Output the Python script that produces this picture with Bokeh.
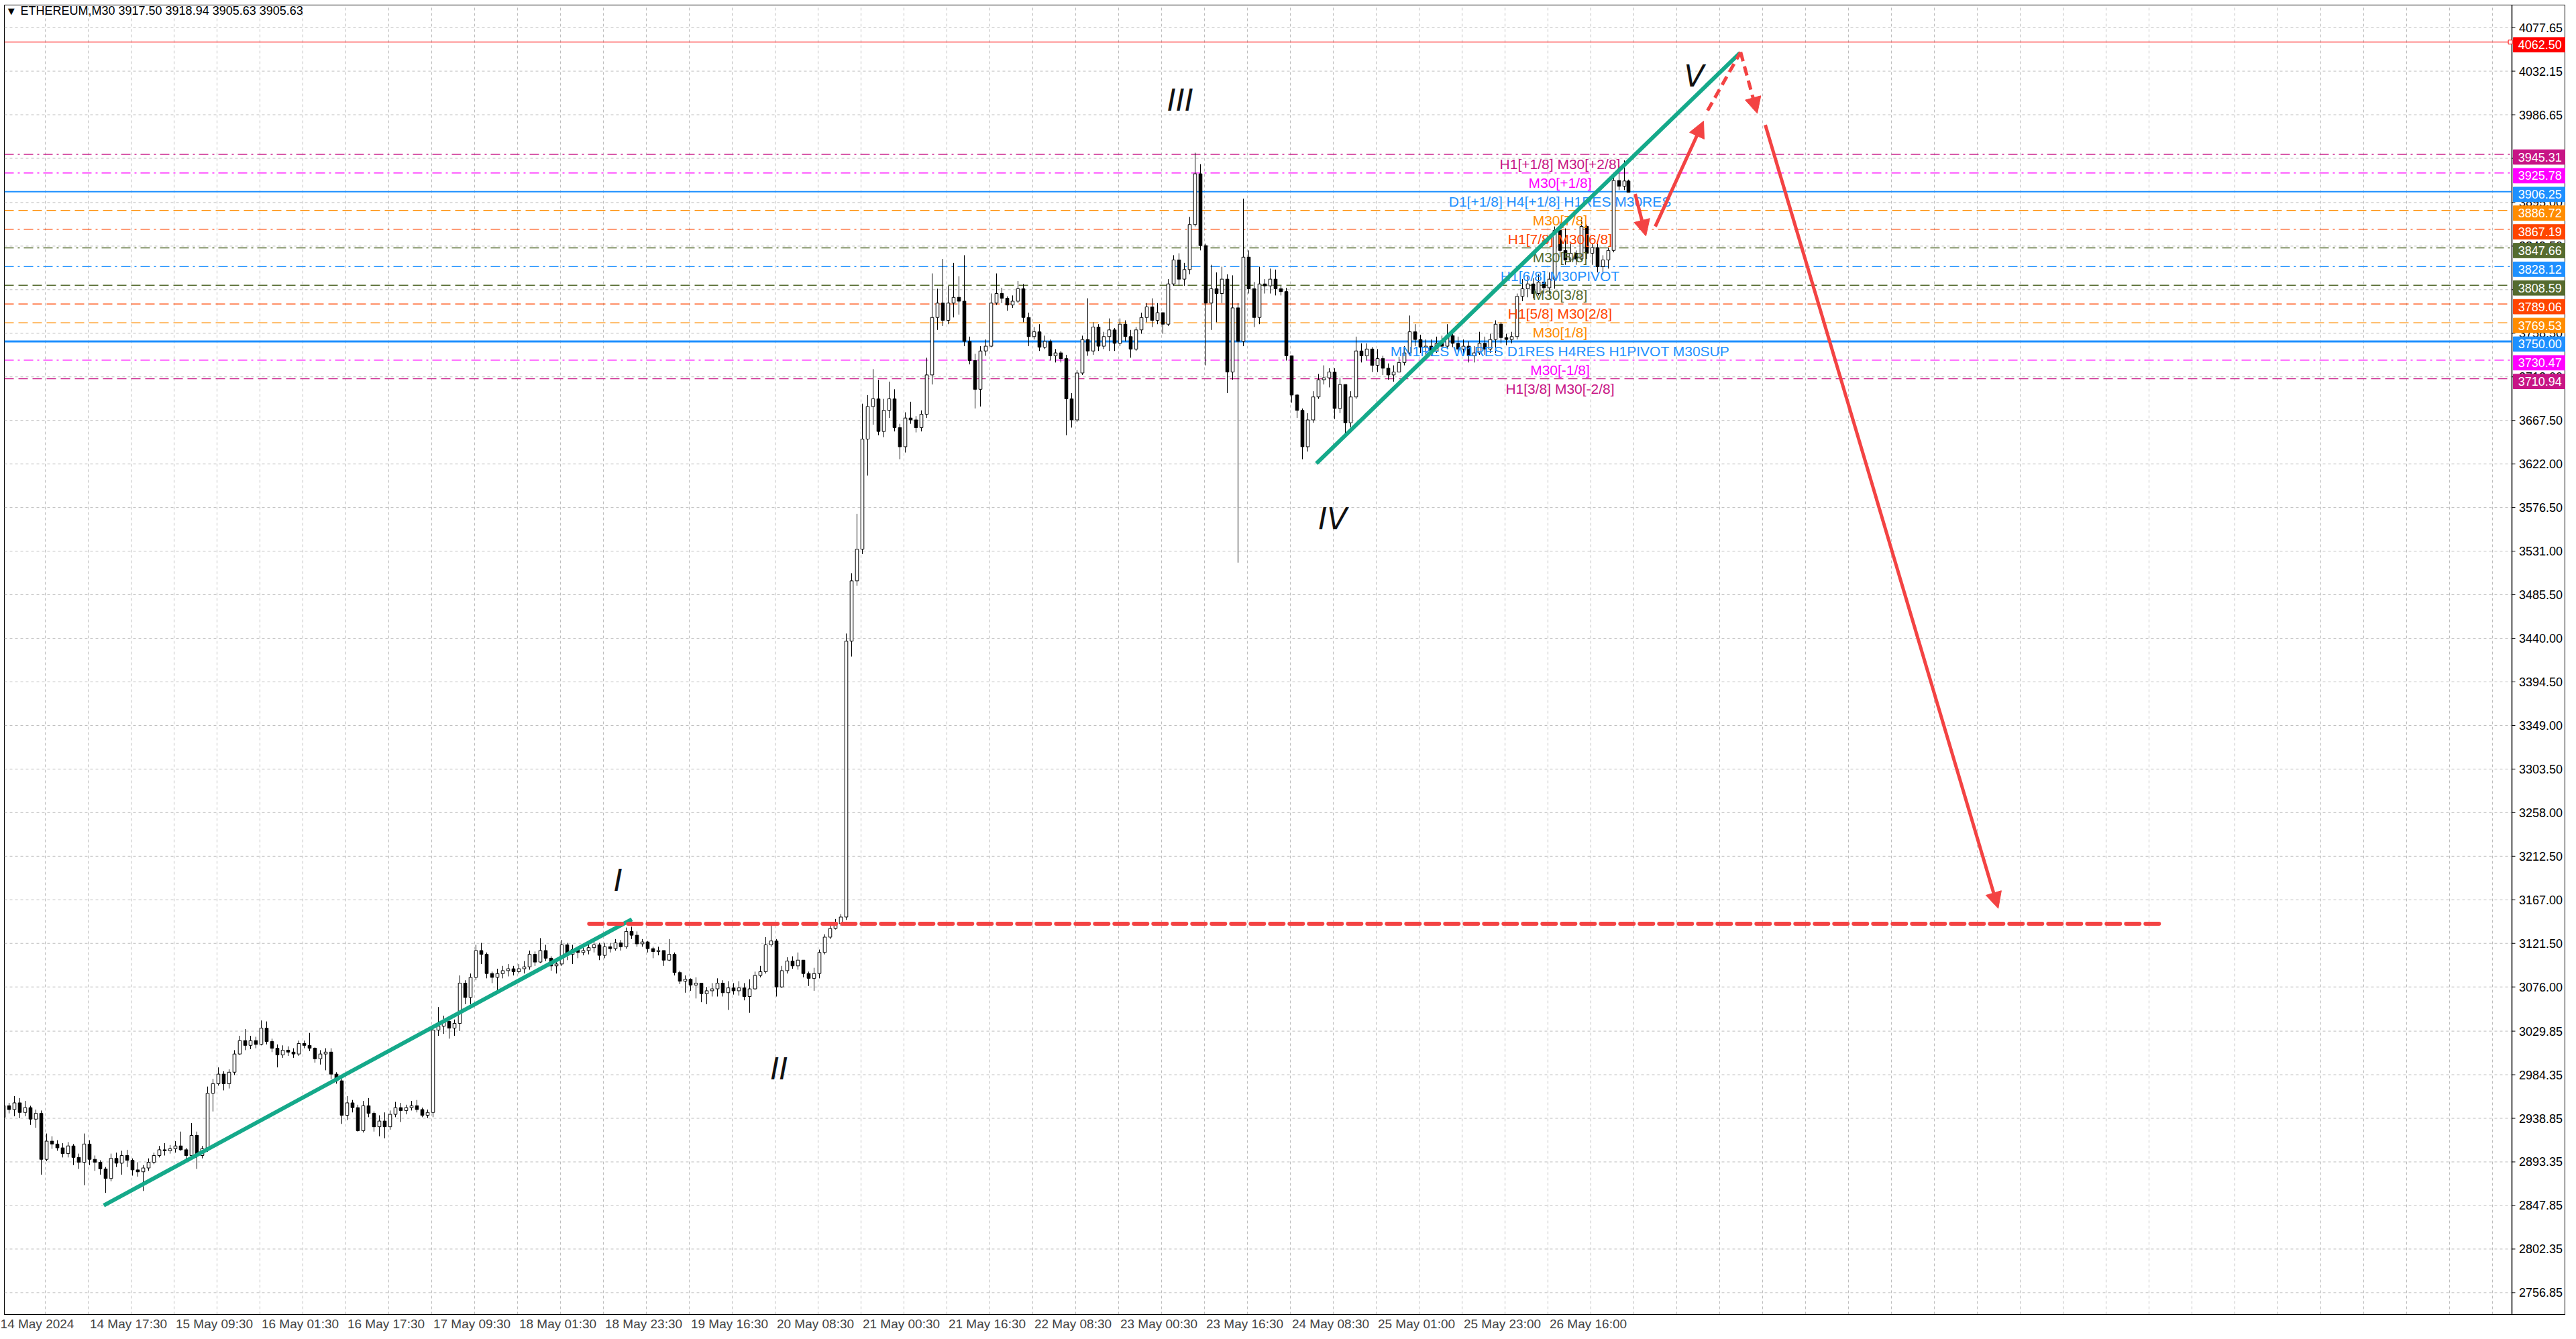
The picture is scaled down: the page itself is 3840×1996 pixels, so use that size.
from bokeh.plotting import figure
from bokeh.models import Range1d, FixedTicker, Arrow, NormalHead, ColumnDataSource
from bokeh.core.properties import value
from bokeh.embed import file_html
from bokeh.resources import INLINE

# ---------------- data (H1 aggregation of the M30 chart) -------------
opens = [2940,2952,2948,2955,2945,2950,2938,2944,2896,2915,2912,2908,2902,2910,2898,2893,2912,2896,2893,2886,
 2876,2897,2892,2900,2895,2885,2883,2887,2893,2900,2906,2905,2907,2910,2906,2900,2921,2900,2907,2965,
 2975,2985,2975,2987,3006,3020,3015,3020,3016,3033,3019,3012,3005,3010,3008,3006,3017,3015,3012,3001,
 3006,3008,2985,2978,2942,2955,2950,2926,2952,2944,2930,2936,2930,2943,2950,2947,2950,2952,2948,2942,
 2945,3031,3035,3040,3033,3038,3080,3065,3086,3114,3110,3090,3086,3090,3093,3095,3092,3095,3097,3110,
 3102,3114,3106,3098,3100,3120,3110,3115,3112,3114,3117,3120,3109,3118,3116,3122,3118,3134,3130,3121,
 3123,3116,3113,3114,3104,3110,3091,3082,3084,3078,3080,3069,3072,3074,3080,3070,3075,3072,3075,3066,
 3074,3088,3092,3120,3124,3076,3093,3103,3098,3104,3090,3085,3090,3112,3128,3137,3142,3149,3437,3500,
 3533,3648,3682,3690,3656,3678,3690,3660,3640,3670,3668,3660,3674,3715,3775,3790,3772,3790,3796,3792,
 3750,3730,3700,3740,3745,3790,3800,3795,3788,3792,3805,3775,3755,3760,3744,3750,3735,3738,3732,3690,
 3668,3717,3752,3740,3765,3745,3755,3762,3748,3768,3755,3742,3762,3775,3786,3772,3780,3768,3810,3835,
 3815,3825,3872,3925,3850,3790,3805,3800,3815,3718,3785,3750,3838,3805,3775,3810,3808,3815,3805,3802,
 3735,3694,3678,3640,3668,3692,3710,3712,3718,3680,3705,3665,3692,3740,3735,3742,3725,3732,3722,3715,
 3718,3728,3738,3760,3752,3744,3745,3740,3748,3745,3756,3748,3742,3745,3735,3738,3748,3742,3752,3768,
 3754,3752,3755,3797,3805,3810,3800,3812,3806,3815,3866,3845,3835,3842,3836,3870,3842,3848,3828,3835,
 3845,3918,3912,3917.50]
highs = [2957,2955,2962,2960,2957,2952,2948,2947,2923,2920,2916,2913,2914,2912,2902,2923,2916,2900,2895,2888,
 2902,2903,2905,2906,2897,2893,2890,2897,2903,2910,2913,2911,2915,2925,2908,2934,2925,2910,2972,2980,
 2992,2988,2990,3010,3025,3032,3025,3024,3041,3040,3022,3016,3015,3014,3012,3020,3020,3028,3013,3010,
 3012,3012,2987,2980,2962,2958,2953,2957,2960,2946,2942,2945,2947,2956,2955,2953,2957,2958,2950,2948,
 3035,3055,3046,3042,3042,3088,3083,3090,3120,3122,3112,3092,3095,3098,3100,3098,3100,3103,3114,3113,
 3127,3120,3108,3104,3125,3122,3120,3118,3119,3121,3124,3122,3122,3122,3126,3125,3138,3139,3134,3126,
 3124,3118,3118,3114,3126,3112,3093,3088,3085,3086,3080,3076,3080,3085,3083,3082,3080,3082,3080,3084,
 3092,3098,3128,3140,3126,3098,3107,3108,3112,3104,3092,3096,3115,3131,3142,3147,3152,3445,3508,3570,
 3685,3694,3721,3710,3690,3708,3700,3664,3676,3687,3672,3678,3733,3821,3805,3836,3808,3832,3818,3840,
 3755,3737,3745,3752,3800,3821,3806,3797,3798,3813,3810,3780,3765,3768,3756,3752,3742,3740,3736,3696,
 3720,3756,3795,3770,3768,3760,3774,3764,3774,3772,3762,3765,3780,3790,3795,3790,3780,3815,3840,3842,
 3832,3880,3947,3935,3852,3830,3822,3828,3820,3819,3790,3899,3845,3812,3828,3815,3826,3825,3808,3806,
 3735,3695,3680,3675,3698,3716,3725,3722,3722,3712,3705,3698,3755,3748,3748,3744,3742,3735,3727,3725,
 3734,3745,3777,3768,3757,3752,3752,3755,3756,3768,3760,3755,3752,3750,3745,3760,3755,3758,3772,3770,
 3758,3760,3800,3815,3818,3816,3820,3820,3822,3870,3875,3868,3852,3845,3880,3872,3852,3855,3840,3848,
 3925,3934,3939,3918.94]
lows = [2935,2944,2941,2939,2941,2932,2929,2880,2894,2907,2905,2898,2898,2890,2886,2869,2890,2884,2880,2861,
 2873,2888,2880,2888,2879,2878,2863,2884,2891,2898,2900,2902,2903,2905,2895,2897,2886,2897,2904,2946,
 2973,2968,2970,2984,3005,3010,3011,3012,3015,3016,3008,2992,3002,3004,3002,3004,3012,3009,2997,2995,
 2989,2980,2975,2933,2937,2945,2925,2924,2940,2925,2920,2918,2927,2940,2935,2943,2947,2945,2940,2939,
 2940,3025,3027,3022,3025,3030,3058,3058,3083,3100,3085,3080,3072,3085,3087,3088,3090,3090,3094,3098,
 3101,3103,3093,3090,3098,3104,3100,3106,3109,3110,3112,3104,3106,3112,3114,3114,3116,3126,3118,3118,
 3112,3106,3109,3098,3103,3088,3079,3070,3072,3064,3060,3058,3066,3066,3066,3052,3068,3067,3062,3049,
 3073,3086,3090,3118,3066,3075,3090,3095,3094,3086,3077,3072,3085,3110,3126,3136,3140,3146,3421,3495,
 3528,3610,3663,3652,3650,3670,3656,3627,3634,3664,3655,3656,3670,3705,3762,3766,3768,3775,3778,3745,
 3726,3680,3682,3735,3744,3788,3790,3782,3785,3790,3770,3745,3752,3740,3742,3730,3728,3728,3652,3660,
 3666,3715,3735,3736,3740,3742,3740,3740,3745,3750,3733,3740,3758,3770,3765,3768,3758,3766,3808,3808,
 3808,3820,3870,3845,3725,3762,3770,3790,3696,3710,3519,3745,3800,3765,3768,3800,3800,3798,3798,3730,
 3686,3670,3627,3635,3665,3690,3705,3702,3669,3675,3653,3660,3690,3728,3730,3718,3718,3715,3710,3708,
 3718,3725,3735,3745,3738,3735,3735,3738,3740,3742,3744,3738,3736,3728,3728,3736,3736,3738,3738,3748,
 3746,3748,3752,3792,3796,3795,3798,3800,3800,3805,3838,3830,3833,3830,3835,3836,3830,3822,3820,3826,
 3843,3908,3908,3905.63]
closes = [2952,2948,2955,2945,2950,2938,2944,2896,2915,2912,2908,2902,2910,2898,2893,2912,2896,2893,2886,2876,
 2897,2892,2900,2895,2885,2883,2887,2893,2900,2906,2905,2907,2910,2906,2900,2921,2900,2907,2965,2975,
 2985,2975,2987,3006,3020,3015,3020,3016,3033,3019,3012,3005,3010,3008,3006,3017,3015,3012,3001,3006,
 3008,2985,2978,2942,2955,2950,2926,2952,2944,2930,2936,2930,2943,2950,2947,2950,2952,2948,2942,2945,
 3031,3035,3040,3033,3038,3080,3065,3086,3114,3110,3090,3086,3090,3093,3095,3092,3095,3097,3110,3102,
 3114,3106,3098,3100,3120,3110,3115,3112,3114,3117,3120,3109,3118,3116,3122,3118,3134,3130,3121,3123,
 3116,3113,3114,3104,3110,3091,3082,3084,3078,3080,3069,3072,3074,3080,3070,3075,3072,3075,3066,3074,
 3088,3092,3120,3124,3076,3093,3103,3098,3104,3090,3085,3090,3112,3128,3137,3142,3149,3437,3500,3533,
 3648,3682,3690,3656,3678,3690,3660,3640,3670,3668,3660,3674,3715,3775,3790,3772,3790,3796,3792,3750,
 3730,3700,3740,3745,3790,3800,3795,3788,3792,3805,3775,3755,3760,3744,3750,3735,3738,3732,3690,3668,
 3717,3752,3740,3765,3745,3755,3762,3748,3768,3755,3742,3762,3775,3786,3772,3780,3768,3810,3835,3815,
 3825,3872,3925,3850,3790,3805,3800,3815,3718,3785,3750,3838,3805,3775,3810,3808,3815,3805,3802,3735,
 3694,3678,3640,3668,3692,3710,3712,3718,3680,3705,3665,3692,3740,3735,3742,3725,3732,3722,3715,3718,
 3728,3738,3760,3752,3744,3745,3740,3748,3745,3756,3748,3742,3745,3735,3738,3748,3742,3752,3768,3754,
 3752,3755,3797,3805,3810,3800,3812,3806,3815,3866,3845,3835,3842,3836,3870,3842,3848,3828,3835,3845,
 3918,3912,3917.50,3905.63]
# first M30 bar index of every H1 candle (the last candle is a single M30 bar)
candle_bar = [2 * j for j in range(303)] + [606]

# price-scale ticks
ytick_vals = [4077.65, 4032.15, 3986.65, 3941.15, 3895.00, 3849.50, 3804.00, 3758.50, 3713.00,
              3667.50, 3622.00, 3576.50, 3531.00, 3485.50, 3440.00, 3394.50, 3349.00, 3303.50,
              3258.00, 3212.50, 3167.00, 3121.50, 3076.00, 3029.85, 2984.35, 2938.85, 2893.35,
              2847.85, 2802.35, 2756.85]
# time-scale labels (M30 bar index -> text)
xlabel_bars = [0, 32, 64, 96, 128, 160, 192, 224, 256, 288, 320, 352, 384, 416, 448, 480, 512, 544, 576]
xlabel_text = ["14 May 2024", "14 May 17:30", "15 May 09:30", "16 May 01:30", "16 May 17:30",
               "17 May 09:30", "18 May 01:30", "18 May 23:30", "19 May 16:30", "20 May 08:30",
               "21 May 00:30", "21 May 16:30", "22 May 08:30", "23 May 00:30", "23 May 16:30",
               "24 May 08:30", "25 May 01:00", "25 May 23:00", "26 May 16:00"]

# Murrey-math levels
level_prices = [3945.31, 3925.78, 3906.25, 3886.72, 3867.19, 3847.66, 3828.12, 3808.59,
                3789.06, 3769.53, 3750.00, 3730.47, 3710.94]
level_names = ["H1[+1/8] M30[+2/8]", "M30[+1/8]", "D1[+1/8] H4[+1/8] H1RES M30RES", "M30[7/8]",
               "H1[7/8] M30[6/8]", "M30[5/8]", "H1[6/8] M30PIVOT", "M30[3/8]", "H1[5/8] M30[2/8]",
               "M30[1/8]", "MN1RES W1RES D1RES H4RES H1PIVOT M30SUP", "M30[-1/8]", "H1[3/8] M30[-2/8]"]
level_colors = ["#C71585", "#FF00FF", "#1E90FF", "#FF8C00", "#FF4500", "#556B2F", "#1E90FF",
                "#556B2F", "#FF4500", "#FF8C00", "#1E90FF", "#FF00FF", "#C71585"]
level_styles = ["dashdot", "dashdot", "solid", "dash", "dashdot", "dashdot", "dashdot", "dash",
                "dash", "dash", "solidthick", "dashdot", "dash"]
target_price = 4062.50
support_price = 3142.0

# hand-drawn analysis objects (M30 bar index, price)
trend1_x = [37.8, 234.6]
trend1_y = [2847.9, 3146.7]
trend2_x = [489.7, 647.5]
trend2_y = [3622.6, 4051.0]
support_x = [218.7, 803.8]
arrow_down_small = (608.5, 3904.0, 612.5, 3860.0)
arrow_up = (616.0, 3870.0, 634.0, 3980.0)
dash_up = (635.5, 3991.0, 647.8, 4052.0)
dash_down = (647.8, 4052.0, 654.0, 3988.0)
arrow_drop = (657.0, 3976.0, 743.8, 3158.0)
wave_text = ["I", "II", "III", "IV", "V"]
wave_x = [229.5, 289.5, 439.0, 495.8, 630.5]
wave_y = [3187.0, 2990.0, 4002.0, 3565.0, 4027.0]
header_text = "ETHEREUM,M30  3917.50 3918.94 3905.63 3905.63"

# ---------------- figure ----------------
GREEN = "#15A98A"
RED = "#F34343"
FONT = "Liberation Sans"
X0, X1 = 0.75, 955.25        # frame spans the chart and the price-scale column
AXIS_X = 935.25              # price-scale border
Y0, Y1 = 2734.0, 4101.2

p = figure(width=3824, height=1987, x_range=Range1d(X0, X1), y_range=Range1d(Y0, Y1),
           output_backend="svg", toolbar_location=None, y_axis_location=None,
           min_border_left=6, min_border_top=7, min_border_right=0, min_border_bottom=28)
p.background_fill_color = "white"
p.border_fill_color = "white"
p.outline_line_color = "black"
p.outline_line_width = 1
p.grid.visible = False

# time axis (real Bokeh axis)
xt = [b + (13 if i == 0 else 15) for i, b in enumerate(xlabel_bars)]
p.xaxis.ticker = FixedTicker(ticks=xt)
p.xaxis.major_label_overrides = {t: s for t, s in zip(xt, xlabel_text)}
p.xaxis.major_label_text_font = "Liberation Sans Narrow, Liberation Sans"
p.xaxis.major_label_text_font_size = "19px"
p.xaxis.major_tick_out = 0
p.xaxis.major_tick_in = 0
p.xaxis.minor_tick_out = 0
p.xaxis.minor_tick_in = 0
p.xaxis.major_label_standoff = 3
p.xaxis.axis_line_color = "black"

# grid
GRID = "#BDBDBD"
vg = list(range(16, 936, 16))
p.segment(x0=vg, y0=[Y0] * len(vg), x1=vg, y1=[Y1] * len(vg), line_color=GRID,
          line_dash="4 4", line_width=1)
p.segment(x0=[X0] * len(ytick_vals), y0=ytick_vals, x1=[AXIS_X + 1.25] * len(ytick_vals),
          y1=ytick_vals, line_color=GRID, line_dash="4 4", line_width=1)

# price scale drawn in data space
p.segment(x0=[AXIS_X], y0=[Y0], x1=[AXIS_X], y1=[Y1], line_color="black", line_width=1.5)
p.segment(x0=[AXIS_X] * len(ytick_vals), y0=ytick_vals, x1=[AXIS_X + 1.25] * len(ytick_vals),
          y1=ytick_vals, line_color="black", line_width=1)
p.text(x=[AXIS_X + 2.6] * len(ytick_vals), y=ytick_vals, text=["%.2f" % v for v in ytick_vals],
       text_align="left", text_baseline="middle", text_font=value(FONT),
       text_font_size="18px", text_color="black")

# level lines
dash_map = {"dashdot": "14 6 3 6", "dash": "14 7", "solid": "solid", "solidthick": "solid"}
for pr, col, st in zip(level_prices, level_colors, level_styles):
    p.line([X0, AXIS_X], [pr, pr], line_color=col,
           line_width=3 if st == "solidthick" else (2 if st == "solid" else 1.3),
           line_dash=dash_map[st])
p.line([X0, AXIS_X], [target_price, target_price], line_color="#FF0000", line_width=1)
p.scatter([AXIS_X - 0.6], [target_price], marker="square", size=6, fill_color="white",
          line_color="#FF0000")

# candles
xs = [b + (0.5 if b < 606 else 0.0) for b in candle_bar]
up = [c >= o for o, c in zip(opens, closes)]
hi = [max(h, o, c) for h, o, c in zip(highs, opens, closes)]
lo = [min(l, o, c) for l, o, c in zip(lows, opens, closes)]
p.segment(x0=xs, y0=lo, x1=xs, y1=hi, line_color="black", line_width=1)
src_up = ColumnDataSource(dict(x=[x for x, u in zip(xs, up) if u],
                               top=[c for c, u in zip(closes, up) if u],
                               bottom=[o for o, u in zip(opens, up) if u]))
src_dn = ColumnDataSource(dict(x=[x for x, u in zip(xs, up) if not u],
                               top=[o for o, u in zip(opens, up) if not u],
                               bottom=[c for c, u in zip(closes, up) if not u]))
p.vbar(x="x", top="top", bottom="bottom", width=1.15, source=src_up,
       fill_color="white", line_color="black", line_width=1)
p.vbar(x="x", top="top", bottom="bottom", width=1.15, source=src_dn,
       fill_color="black", line_color="black", line_width=1)

# level labels in the chart
lsrc = ColumnDataSource(dict(x=[580.5] * len(level_prices), y=[v - 2.1 for v in level_prices],
                             text=level_names, color=level_colors))
p.text(x="x", y="y", text="text", text_color="color", source=lsrc, text_align="center",
       text_baseline="top", text_font=value(FONT), text_font_size="21px")

# trend lines / support
p.line(trend1_x, trend1_y, line_color=GREEN, line_width=6)
p.line(trend2_x, trend2_y, line_color=GREEN, line_width=6)
p.line(support_x, [support_price, support_price], line_color=RED, line_width=6,
       line_dash="20 9", line_cap="round")

def add_arrow(seg, head=True, dashed=False):
    x0, y0, x1, y1 = seg
    end = NormalHead(size=24, fill_color=RED, line_color=RED, line_width=1) if head else None
    p.add_layout(Arrow(end=end, x_start=x0, y_start=y0, x_end=x1, y_end=y1,
                       line_color=RED, line_width=5, line_dash="14 8" if dashed else "solid"))

add_arrow(arrow_down_small)
add_arrow(arrow_up)
add_arrow(dash_up, head=False, dashed=True)
add_arrow(dash_down, dashed=True)
add_arrow(arrow_drop)

# wave labels
p.text(x=wave_x, y=wave_y, text=wave_text, text_align="center", text_baseline="middle",
       text_font=value("DejaVu Sans"), text_font_style="italic", text_font_size="44px",
       text_color="#111111")

# header
p.text(x=[3.3], y=[4094.9], text=["\u25BC"], text_align="center", text_baseline="middle",
       text_font=value("DejaVu Sans"), text_font_size="13px", text_color="black")
p.text(x=[6.75], y=[4094.9], text=[header_text], text_align="left", text_baseline="middle",
       text_font=value(FONT), text_font_size="18px", text_color="black")

# coloured price boxes on the price scale
box_prices = [target_price] + level_prices
box_colors = ["#FF0000"] + level_colors
bsrc = ColumnDataSource(dict(left=[AXIS_X + 0.5] * len(box_prices),
                             right=[AXIS_X + 20.5] * len(box_prices),
                             top=[v - 2.8 + 7.6 for v in box_prices],
                             bottom=[v - 2.8 - 7.6 for v in box_prices],
                             color=box_colors))
p.quad(left="left", right="right", top="top", bottom="bottom", fill_color="color",
       line_color="color", source=bsrc)
p.text(x=[AXIS_X + 2.3] * len(box_prices), y=[v - 2.8 for v in box_prices],
       text=["%.2f" % v for v in box_prices], text_align="left", text_baseline="middle",
       text_font=value(FONT), text_font_size="18px", text_color="white")

open("out.html", "w").write(file_html(p, INLINE))
